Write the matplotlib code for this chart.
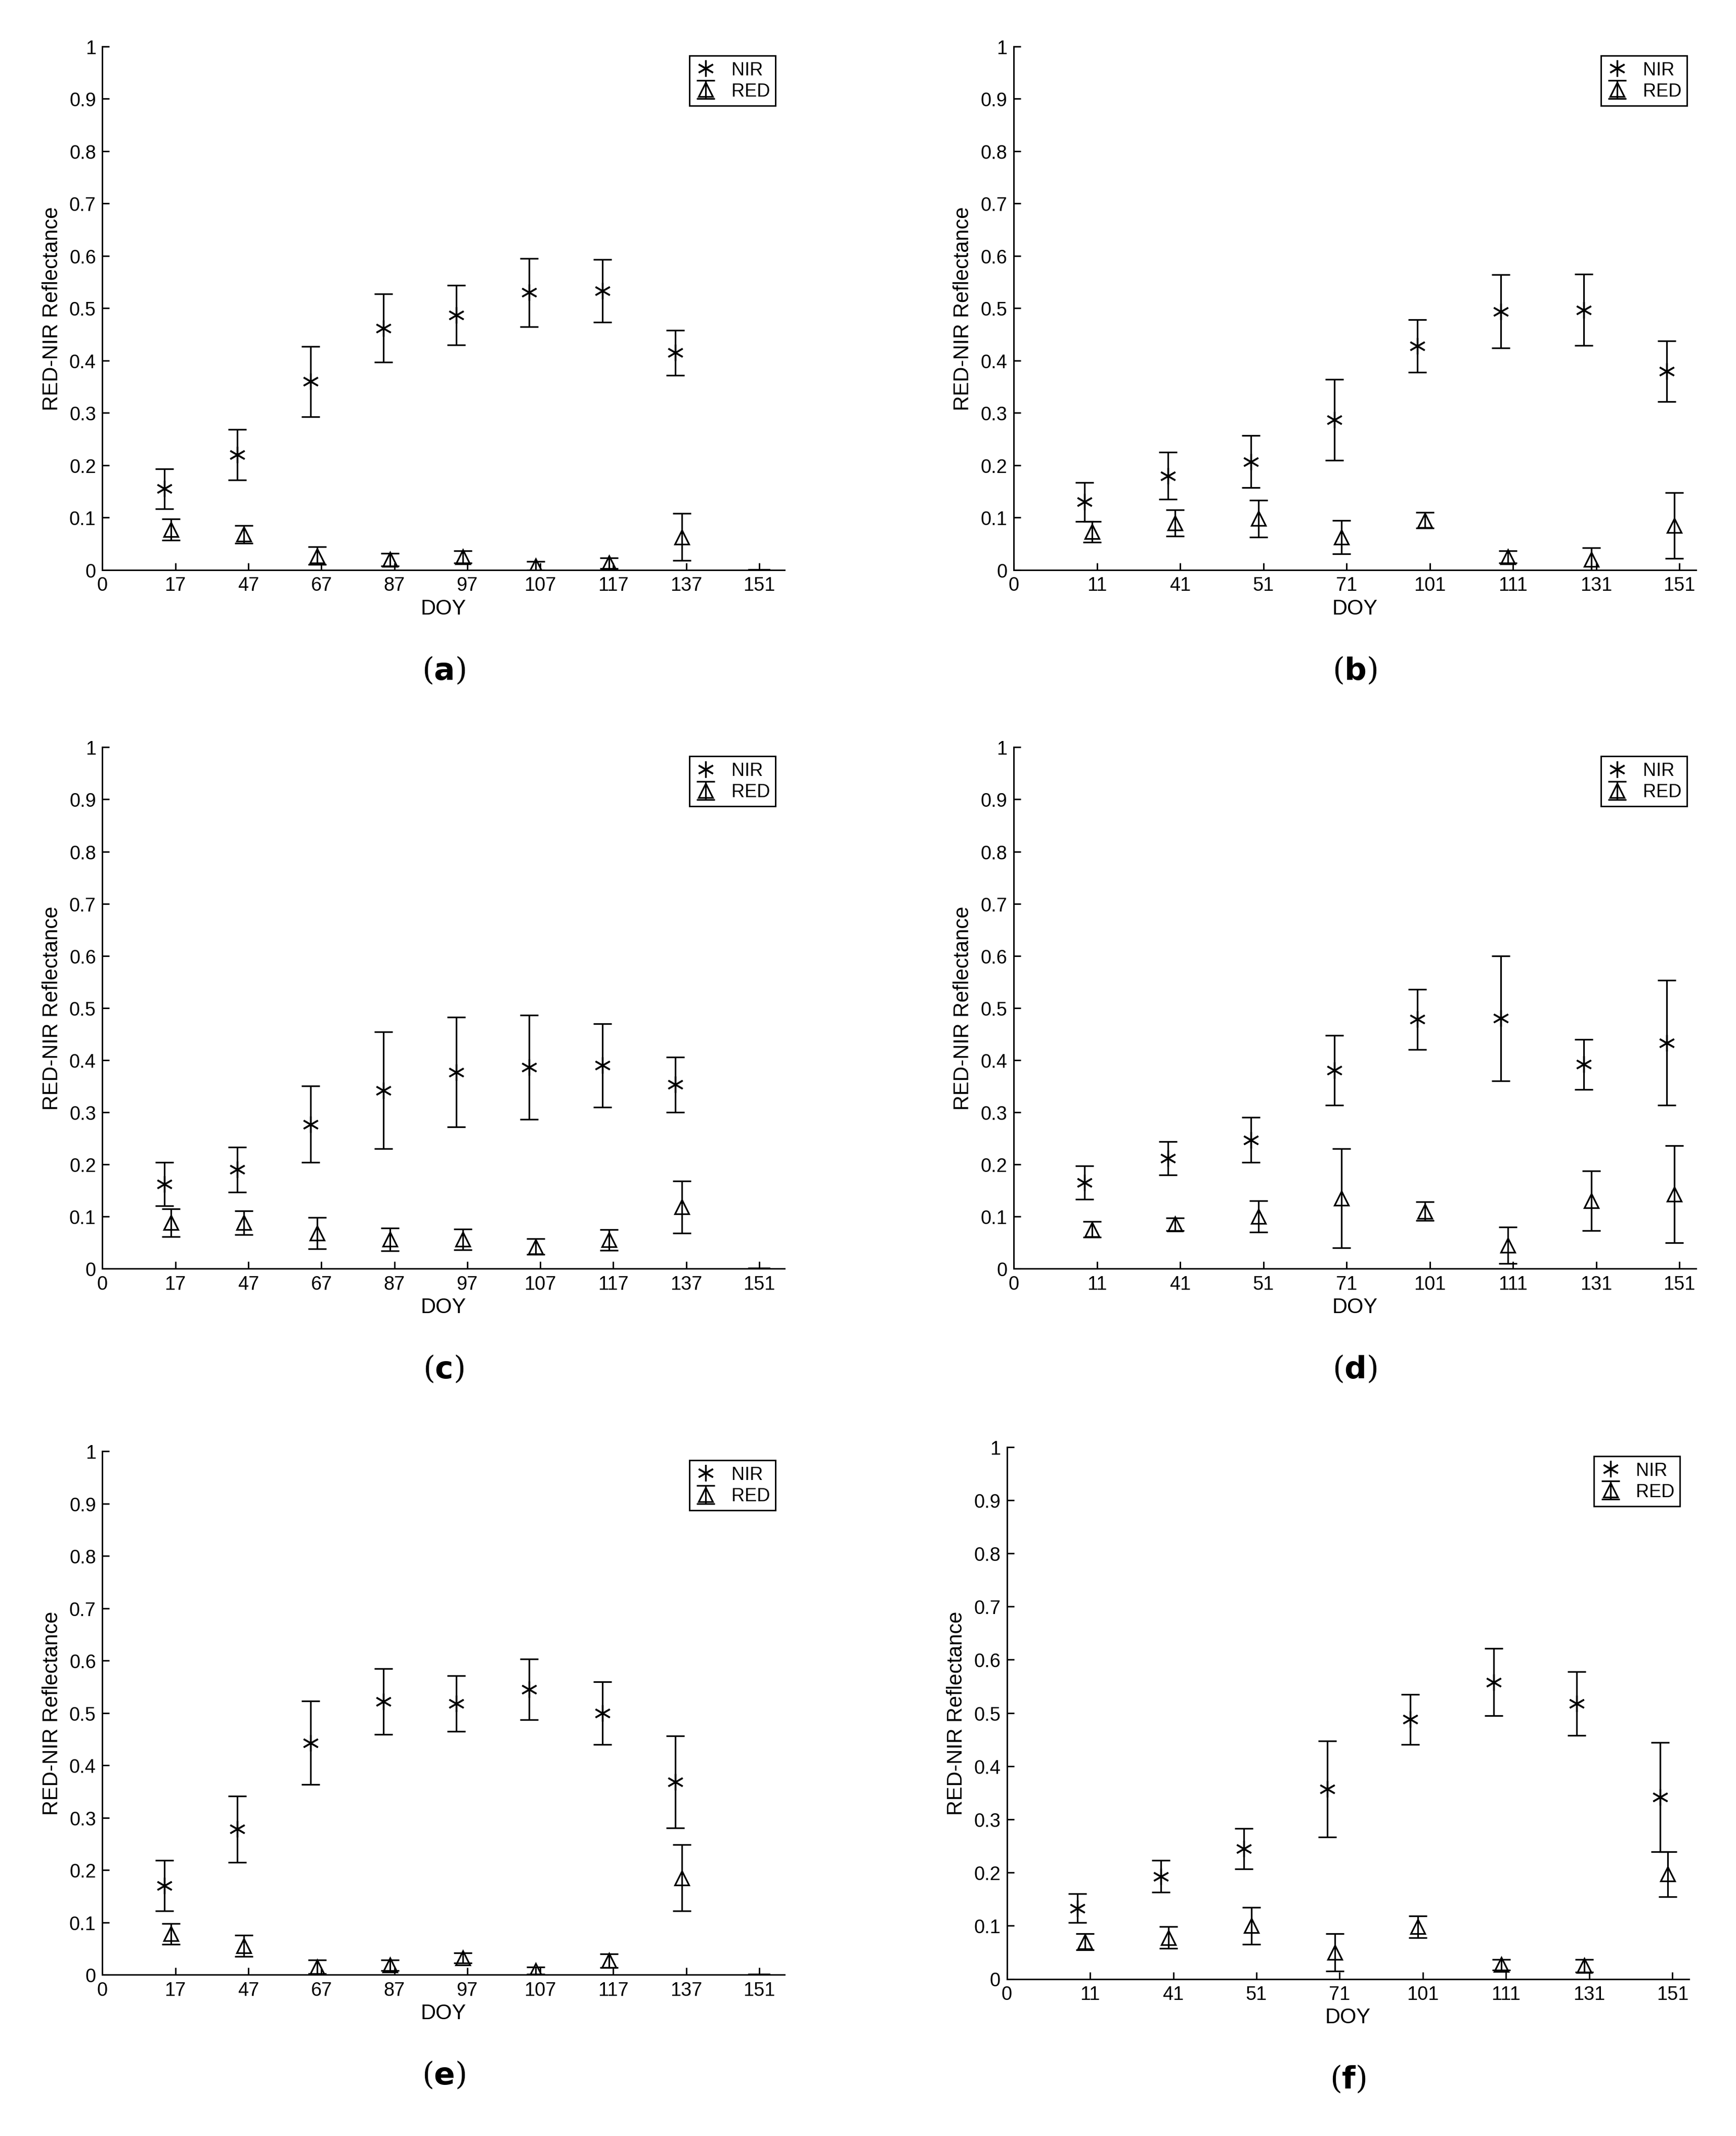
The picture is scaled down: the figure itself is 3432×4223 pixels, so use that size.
import matplotlib
matplotlib.use("Agg")
import matplotlib.pyplot as plt

plt.rcParams["font.family"] = ["Liberation Sans", "DejaVu Sans"]

TICKS_A = ["0", "17", "47", "67", "87", "97", "107", "117", "137", "151"]
TICKS_B = ["0", "11", "41", "51", "71", "101", "111", "131", "151"]

NIR_A = [0.155, 0.22, 0.36, 0.462, 0.487, 0.53, 0.533, 0.415]
NIR_A_ERR = [0.038, 0.048, 0.067, 0.065, 0.057, 0.065, 0.06, 0.043]
RED_A = [0.077, 0.068, 0.027, 0.02, 0.025, 0.008, 0.013, 0.063]
RED_A_ERR = [0.02, 0.017, 0.017, 0.012, 0.012, 0.008, 0.01, 0.045]

NIR_B = [0.13, 0.18, 0.207, 0.287, 0.428, 0.494, 0.497, 0.38]
NIR_B_ERR = [0.037, 0.045, 0.05, 0.077, 0.05, 0.07, 0.068, 0.058]
RED_B = [0.073, 0.09, 0.098, 0.063, 0.095, 0.025, 0.02, 0.085]
RED_B_ERR = [0.02, 0.025, 0.035, 0.032, 0.015, 0.012, 0.022, 0.063]

NIR_C = [0.162, 0.19, 0.277, 0.342, 0.377, 0.386, 0.39, 0.353]
NIR_C_ERR = [0.042, 0.043, 0.073, 0.112, 0.105, 0.1, 0.08, 0.053]
RED_C = [0.088, 0.088, 0.068, 0.056, 0.056, 0.042, 0.055, 0.118]
RED_C_ERR = [0.027, 0.023, 0.03, 0.022, 0.02, 0.015, 0.02, 0.05]

NIR_D = [0.165, 0.212, 0.247, 0.38, 0.478, 0.48, 0.392, 0.433]
NIR_D_ERR = [0.032, 0.032, 0.043, 0.067, 0.058, 0.12, 0.048, 0.12]
RED_D = [0.075, 0.085, 0.1, 0.135, 0.11, 0.045, 0.13, 0.143]
RED_D_ERR = [0.015, 0.012, 0.03, 0.095, 0.018, 0.035, 0.057, 0.093]

NIR_E = [0.17, 0.278, 0.443, 0.522, 0.518, 0.545, 0.5, 0.368]
NIR_E_ERR = [0.048, 0.063, 0.08, 0.063, 0.053, 0.058, 0.06, 0.088]
RED_E = [0.078, 0.055, 0.015, 0.018, 0.032, 0.008, 0.027, 0.185]
RED_E_ERR = [0.02, 0.02, 0.013, 0.01, 0.01, 0.007, 0.013, 0.063]

NIR_F = [0.133, 0.193, 0.245, 0.357, 0.488, 0.558, 0.518, 0.342]
NIR_F_ERR = [0.027, 0.03, 0.038, 0.09, 0.047, 0.063, 0.06, 0.103]
RED_F = [0.07, 0.078, 0.1, 0.05, 0.098, 0.027, 0.025, 0.197]
RED_F_ERR = [0.015, 0.02, 0.035, 0.035, 0.02, 0.01, 0.012, 0.042]

PANELS = [
    ("a", TICKS_A, NIR_A, NIR_A_ERR, RED_A, RED_A_ERR, [0.059, 0.733, 0.393, 0.245]),
    ("b", TICKS_B, NIR_B, NIR_B_ERR, RED_B, RED_B_ERR, [0.584, 0.733, 0.393, 0.245]),
    ("c", TICKS_A, NIR_C, NIR_C_ERR, RED_C, RED_C_ERR, [0.059, 0.406, 0.393, 0.244]),
    ("d", TICKS_B, NIR_D, NIR_D_ERR, RED_D, RED_D_ERR, [0.584, 0.406, 0.393, 0.244]),
    ("e", TICKS_A, NIR_E, NIR_E_ERR, RED_E, RED_E_ERR, [0.059, 0.0755, 0.393, 0.245]),
    ("f", TICKS_B, NIR_F, NIR_F_ERR, RED_F, RED_F_ERR, [0.580, 0.0735, 0.393, 0.249]),
]

ASTERISK = (6, 2, 0)

fig = plt.figure(figsize=(13.2, 16.246), dpi=260)
for letter, ticks, nir, nir_err, red, red_err, pos in PANELS:
    ax = fig.add_axes(pos)
    n = len(ticks) - 1
    long_axis = len(ticks) == 10
    xs = range(1, len(nir) + 1)
    nir_x = [x - 0.15 for x in xs]
    red_x = [x - 0.06 for x in xs]
    ax.errorbar(red_x, red, yerr=red_err, fmt="^", mfc="none", mec="black",
                ecolor="black", color="black", ms=8, mew=0.9, elinewidth=0.9,
                capsize=5, capthick=0.9, label="RED")
    ax.errorbar(nir_x, nir, yerr=nir_err, fmt="none", ecolor="black",
                elinewidth=0.9, capsize=5, capthick=0.9)
    ax.plot(nir_x, nir, ls="none", marker=ASTERISK, color="black", ms=9,
            mew=0.9, label="NIR")
    if long_axis:
        ax.plot([n], [0], ls="none", marker="_", color="black", ms=12, mew=1.2)
    ax.set_xlim(0, n + (0.35 if long_axis else 0.2))
    ax.set_ylim(0, 1)
    ax.set_xticks(range(len(ticks)))
    ax.set_xticklabels(ticks)
    ax.set_yticks([i / 10 for i in range(11)])
    ax.set_yticklabels(["0"] + [f"{i / 10:g}" for i in range(1, 10)] + ["1"])
    ax.tick_params(direction="in", labelsize=10.5, length=4)
    ax.spines["top"].set_visible(False)
    ax.spines["right"].set_visible(False)
    ax.set_xlabel("DOY", fontsize=11.5, labelpad=2)
    ax.set_ylabel("RED-NIR Reflectance", fontsize=11.5)
    leg = ax.legend(loc="upper right", fontsize=10, fancybox=False,
                    edgecolor="black", framealpha=1, handlelength=1.2,
                    borderpad=0.3, labelspacing=0.2)
    leg.get_frame().set_linewidth(0.8)
    cx = pos[0] + pos[2] / 2
    fig.text(cx, pos[1] - 0.047, rf"($\mathbf{{{letter}}}$)", ha="center",
             va="center", fontsize=17, family="DejaVu Serif")

fig.savefig("out.png")
